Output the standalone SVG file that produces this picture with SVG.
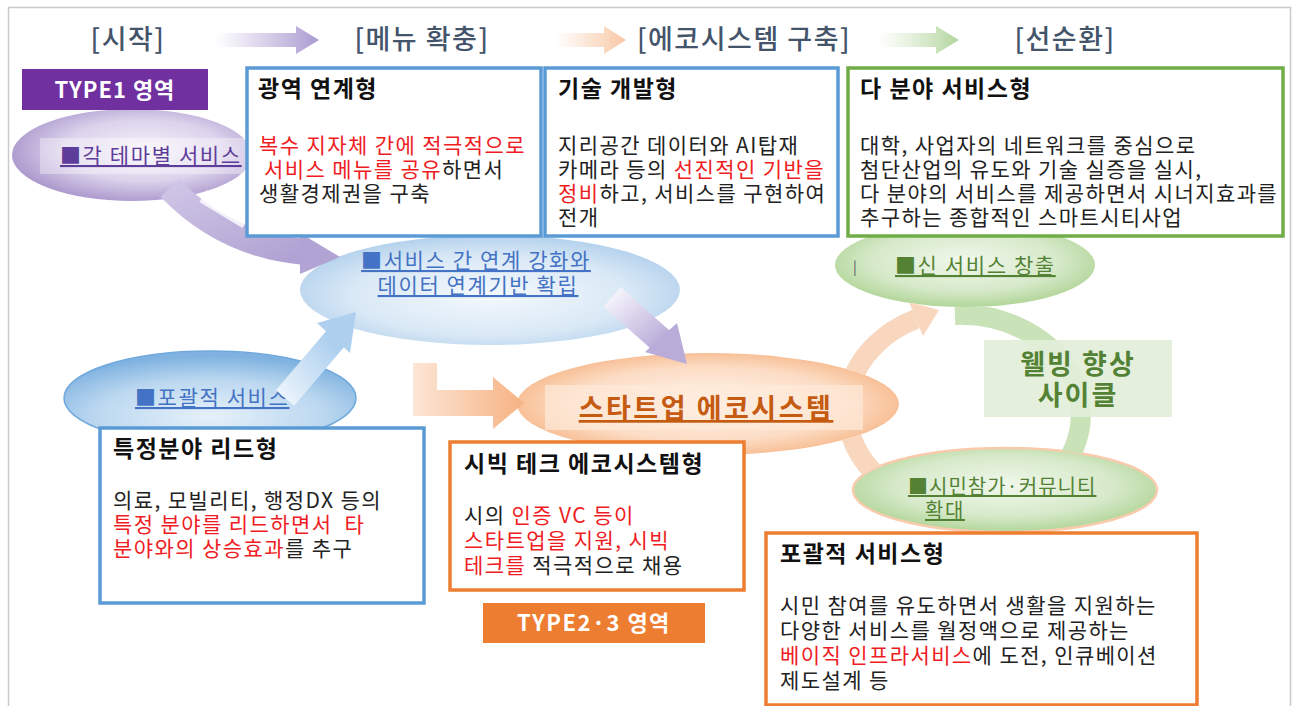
<svg xmlns="http://www.w3.org/2000/svg" width="1301" height="706" viewBox="0 0 1301 706">
<style>
text{font-family:"Noto Sans CJK KR","Noto Sans",sans-serif}
.hdr{font-size:27px;font-weight:500;fill:#44546a;letter-spacing:1.5px}
.ttl{font-size:23px;font-weight:700;fill:#111;letter-spacing:1.5px}
.bd{font-size:21px;fill:#222;letter-spacing:1.4px}
.red{fill:#ef1c24}
.lbl{font-size:21px;text-decoration:underline;letter-spacing:1.6px}
.box{fill:#fff;stroke-width:3.5}
.bl{stroke:#5b9bd5}.or{stroke:#ed7d31}.gr{stroke:#70ad47}
</style>
<defs>
<radialGradient id="gPur" cx="0.55" cy="0.45" r="0.6"><stop offset="0" stop-color="#f6f3fa"/><stop offset="0.55" stop-color="#dcd3ec"/><stop offset="1" stop-color="#a591c9"/></radialGradient>
<radialGradient id="gBlu" cx="0.5" cy="0.55" r="0.6"><stop offset="0" stop-color="#f3f8fd"/><stop offset="0.6" stop-color="#dae9f6"/><stop offset="1" stop-color="#a9cbea"/></radialGradient>
<radialGradient id="gBlu2" cx="0.5" cy="0.7" r="0.65"><stop offset="0" stop-color="#e6f1fa"/><stop offset="0.6" stop-color="#bcd8f0"/><stop offset="1" stop-color="#7fb2e0"/></radialGradient>
<radialGradient id="gOr" cx="0.5" cy="0.5" r="0.6"><stop offset="0" stop-color="#fff6ef"/><stop offset="0.6" stop-color="#fcdcc4"/><stop offset="1" stop-color="#f4ad78"/></radialGradient>
<radialGradient id="gGr" cx="0.5" cy="0.45" r="0.6"><stop offset="0" stop-color="#f1f8ec"/><stop offset="0.6" stop-color="#d6e9c9"/><stop offset="1" stop-color="#a9d18e"/></radialGradient>
<linearGradient id="hPur" x1="0" x2="1"><stop offset="0" stop-color="#b4a7d6" stop-opacity="0"/><stop offset="1" stop-color="#a999d0"/></linearGradient>
<linearGradient id="hOr" x1="0" x2="1"><stop offset="0" stop-color="#f8cbad" stop-opacity="0"/><stop offset="1" stop-color="#f8c8a4"/></linearGradient>
<linearGradient id="hGr" x1="0" x2="1"><stop offset="0" stop-color="#c5e0b4" stop-opacity="0"/><stop offset="1" stop-color="#b3d59c"/></linearGradient>
<linearGradient id="aPur" x1="0" y1="0" x2="1" y2="1"><stop offset="0" stop-color="#cfc5e6"/><stop offset="1" stop-color="#b0a2d3"/></linearGradient>
<linearGradient id="aPur2" x1="0" y1="0" x2="1" y2="1"><stop offset="0" stop-color="#f4f2fa"/><stop offset="1" stop-color="#b7aad8"/></linearGradient>
<linearGradient id="aBlu" x1="0" y1="1" x2="1" y2="0"><stop offset="0" stop-color="#eaf3fb"/><stop offset="1" stop-color="#a8cdee"/></linearGradient>
<linearGradient id="aOr" x1="0" y1="0" x2="1" y2="0"><stop offset="0" stop-color="#fce6d6"/><stop offset="1" stop-color="#f6b282"/></linearGradient>
<mask id="cycMask" maskUnits="userSpaceOnUse" x="0" y="0" width="1301" height="706">
<rect x="0" y="0" width="1301" height="706" fill="#fff"/>
<ellipse cx="708" cy="404" rx="191" ry="51" fill="#000"/>
<ellipse cx="965" cy="265" rx="130" ry="42" fill="#000"/>
<ellipse cx="1005" cy="490" rx="152" ry="42" fill="#000"/>
</mask>
</defs>
<rect x="8.5" y="7.5" width="1282" height="720" fill="#fff" stroke="#c9c9c9" stroke-width="1.5"/>

<g id="headers">
<text class="hdr" x="128" y="49" text-anchor="middle">[시작]</text>
<text class="hdr" x="422" y="49" text-anchor="middle">[메뉴 확충]</text>
<text class="hdr" x="744" y="49" text-anchor="middle">[에코시스템 구축]</text>
<text class="hdr" x="1065" y="49" text-anchor="middle">[선순환]</text>
</g>

<g id="node-theme">
<ellipse cx="132" cy="155" rx="120" ry="46" fill="url(#gPur)"/>
<rect x="40" y="138" width="206" height="36" fill="#fff" opacity="0.35"/>
<text class="lbl" x="60" y="163" fill="#5e3c99">■각 테마별 서비스</text>
</g>
<g id="node-link">
<ellipse cx="490" cy="290" rx="190" ry="55" fill="url(#gBlu)"/>
<text class="lbl" x="476" y="268" text-anchor="middle" fill="#4472c4">■서비스 간 연계 강화와</text>
<text class="lbl" x="478" y="293" text-anchor="middle" fill="#4472c4">데이터 연계기반 확립</text>
</g>
<g id="node-comp">
<ellipse cx="210" cy="398" rx="146" ry="47" fill="url(#gBlu2)" stroke="#6fa8dc" stroke-width="1.5"/>
<text class="lbl" x="135" y="405" fill="#4472c4">■포괄적 서비스</text>
</g>
<g id="node-startup">
<ellipse cx="708" cy="404" rx="191" ry="51" fill="url(#gOr)"/>
<rect x="545" y="385" width="318" height="45" fill="#fde9d9" opacity="0.7"/>
<text x="706" y="418" text-anchor="middle" style="font-size:27px;font-weight:700;text-decoration:underline;letter-spacing:2.5px" fill="#c55a11">스타트업 에코시스템</text>
</g>
<g id="node-new">
<ellipse cx="965" cy="265" rx="130" ry="42" fill="url(#gGr)"/>
<text x="853" y="272" style="font-size:14px" fill="#555">|</text>
<text class="lbl" x="895" y="273" fill="#548235">■신 서비스 창출</text>
</g>
<g id="node-citizen">
<ellipse cx="1005" cy="490" rx="152" ry="42" fill="url(#gGr)" stroke="#f8cbad" stroke-width="2.5"/>
<text class="lbl" x="908" y="494" fill="#548235" style="font-size:20px;letter-spacing:1px">■시민참가·커뮤니티</text>
<text class="lbl" x="925" y="518" fill="#548235" style="font-size:20px">확대</text>
</g>

<g id="connectors">
<path d="M215,33 H296 V26 L319,40 L296,54 V47 H215 Z" fill="url(#hPur)"/>
<path d="M555,33 H604 V26 L626,40 L604,54 V47 H555 Z" fill="url(#hOr)"/>
<path d="M878,33 H936 V26 L959,40 L936,54 V47 H878 Z" fill="url(#hGr)"/>
<path d="M170,188 Q225,245 305,252" fill="none" stroke="url(#aPur)" stroke-width="26"/>
<polygon points="300,233 340,257 300,274" fill="#b1a3d4"/>
<path d="M203,196 L246,222" stroke="#fff" stroke-width="14" opacity="0.8"/>
<path d="M285,398 L336,338" stroke="url(#aBlu)" stroke-width="24"/>
<polygon points="317,323 356,312 350,353" fill="#aed0ee"/>
<path d="M612,297 L664,343" stroke="url(#aPur2)" stroke-width="26"/>
<polygon points="645,352 687,364 677,323" fill="#b9acd9"/>
<polygon points="413,363 437,363 437,390 493,390 493,377 524,403 493,429 493,416 413,416" fill="url(#aOr)"/>
<g mask="url(#cycMask)">
<path d="M875,474 A120,100 0 0 1 916,319" fill="none" stroke="#f9d7be" stroke-width="20"/>
<polygon points="909,302 939,310 923,336" fill="#f9d7be"/>
<path d="M955,315 A120,100 0 0 1 1040,490" fill="none" stroke="#c9e2b8" stroke-width="20"/>
</g>
</g>

<g id="node-wellbeing">
<rect x="984" y="340" width="188" height="77" fill="#e2efd9" opacity="0.92"/>
<text x="1078" y="374" text-anchor="middle" style="font-size:27px;font-weight:700;letter-spacing:2px" fill="#548235">웰빙 향상</text>
<text x="1078" y="405" text-anchor="middle" style="font-size:27px;font-weight:700;letter-spacing:2px" fill="#548235">사이클</text>
</g>

<g id="node-type1">
<rect x="22" y="69" width="186" height="41" fill="#7030a0"/>
<text x="115" y="98" text-anchor="middle" style="font-size:22px;font-weight:700;letter-spacing:1px" fill="#fff">TYPE1 영역</text>
</g>

<g id="node-wide">
<rect class="box bl" x="247" y="68" width="294" height="168"/>
<text class="ttl" x="258" y="97">광역 연계형</text>
<text class="bd red" x="259" y="153">복수 지자체 간에 적극적으로</text>
<text class="bd" x="264" y="177"><tspan class="red">서비스 메뉴를 공유</tspan>하면서</text>
<text class="bd" x="259" y="201">생활경제권을 구축</text>
</g>

<g id="node-tech">
<rect class="box bl" x="545" y="68" width="293" height="168"/>
<text class="ttl" x="558" y="97">기술 개발형</text>
<text class="bd" x="558" y="153">지리공간 데이터와 AI탑재</text>
<text class="bd" x="558" y="177">카메라 등의 <tspan class="red">선진적인 기반을</tspan></text>
<text class="bd" x="558" y="201"><tspan class="red">정비</tspan>하고, 서비스를 구현하여</text>
<text class="bd" x="558" y="225">전개</text>
</g>

<g id="node-multi">
<rect class="box gr" x="848" y="68" width="435" height="168"/>
<text class="ttl" x="860" y="97">다 분야 서비스형</text>
<text class="bd" x="860" y="153">대학, 사업자의 네트워크를 중심으로</text>
<text class="bd" x="860" y="177">첨단산업의 유도와 기술 실증을 실시,</text>
<text class="bd" x="860" y="201">다 분야의 서비스를 제공하면서 시너지효과를</text>
<text class="bd" x="860" y="225">추구하는 종합적인 스마트시티사업</text>
</g>

<g id="node-lead">
<rect class="box bl" x="100" y="428" width="324" height="175"/>
<text class="ttl" x="113" y="457">특정분야 리드형</text>
<text class="bd" x="113" y="508">의료, 모빌리티, 행정DX 등의</text>
<text class="bd red" x="113" y="532" xml:space="preserve">특정 분야를 리드하면서  타</text>
<text class="bd" x="113" y="556"><tspan class="red">분야와의 상승효과</tspan>를 추구</text>
</g>

<g id="node-civic">
<rect class="box or" x="450" y="442" width="294" height="148"/>
<text class="ttl" x="464" y="472">시빅 테크 에코시스템형</text>
<text class="bd" x="464" y="523">시의 <tspan class="red">인증 VC 등이</tspan></text>
<text class="bd red" x="464" y="548">스타트업을 지원, 시빅</text>
<text class="bd" x="464" y="573"><tspan class="red">테크를</tspan> 적극적으로 채용</text>
</g>

<g id="node-type23">
<rect x="483" y="603" width="222" height="40" fill="#ed7d31"/>
<text x="594" y="631" text-anchor="middle" style="font-size:22px;font-weight:700;letter-spacing:1.5px" fill="#fff">TYPE2·3 영역</text>
</g>

<g id="node-basic">
<rect class="box or" x="766" y="533" width="431" height="172"/>
<text class="ttl" x="780" y="562">포괄적 서비스형</text>
<text class="bd" x="780" y="613">시민 참여를 유도하면서 생활을 지원하는</text>
<text class="bd" x="780" y="638">다양한 서비스를 월정액으로 제공하는</text>
<text class="bd" x="780" y="663"><tspan class="red">베이직 인프라서비스</tspan>에 도전, 인큐베이션</text>
<text class="bd" x="780" y="688">제도설계 등</text>
</g>
</svg>
